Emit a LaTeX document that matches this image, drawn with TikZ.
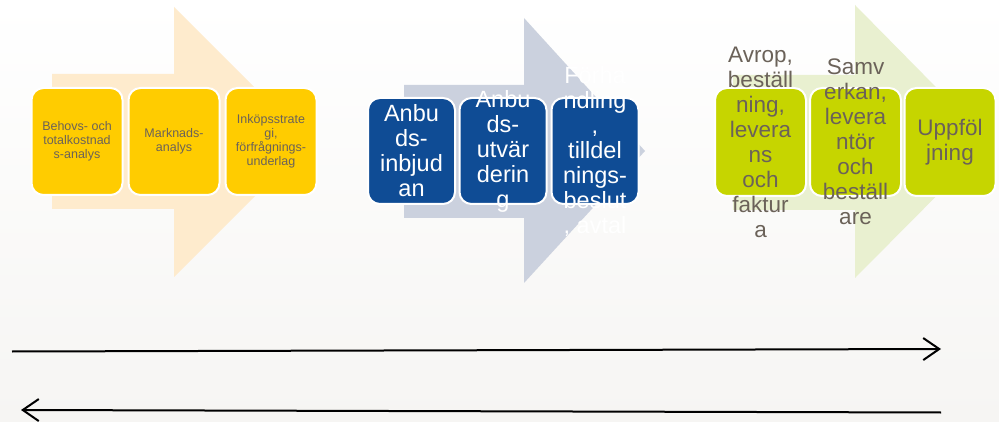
\documentclass[tikz,border=0pt]{standalone}
\usepackage{fontspec}
\setmainfont{Liberation Sans}
\usepackage{tikz}
\usetikzlibrary{arrows.meta,positioning}
\definecolor{bgtop}{HTML}{FFFFFF}
\definecolor{bgbottom}{HTML}{F6F5F3}
\definecolor{yellowstep}{HTML}{FFCC00}
\definecolor{yellowback}{HTML}{FEEBCD}
\definecolor{bluestep}{HTML}{0F4C95}
\definecolor{blueback}{HTML}{CBD1DE}
\definecolor{greenstep}{HTML}{C6D500}
\definecolor{greenback}{HTML}{E9F0D0}
\definecolor{steptext}{HTML}{6B6259}
\tikzset{
    x=1pt,y=-1pt,
    stepbox/.style ={rectangle, rounded corners=12pt, draw=white, line width=2pt,
                     inner sep=0pt, minimum height = 107pt},
    yellowbox/.style={stepbox, fill=yellowstep, minimum width = 91pt},
    bluebox/.style ={stepbox, fill=bluestep, minimum width = 87pt, minimum height = 106pt},
    greenbox/.style={stepbox, fill=greenstep, minimum width = 91pt, minimum height = 108pt},
    yellowtxt/.style={align=center, text=steptext, inner sep=0pt,
                      font=\fontsize{12.5}{14}\selectfont},
    bluetxt/.style ={align=center, text=white, inner sep=0pt,
                      font=\fontsize{23.5}{25}\selectfont},
    greentxt/.style={align=center, text=steptext, inner sep=0pt,
                      font=\fontsize{22.5}{25}\selectfont},
    timeline/.style={line width=2pt, -{Straight Barb[length=16pt,width=22pt,line width=2pt]}}
}
\begin{document}
\begin{tikzpicture}
 \useasboundingbox (0,0) rectangle (999,422);
 \shade[top color=bgtop, bottom color=bgbottom] (0,0) rectangle (999,422);

    % big background arrows
    \fill[yellowback] (52,74) -- (174,74) -- (174,7) -- (309,142) -- (174,277) -- (174,209) -- (52,209) -- cycle;
    \fill[blueback] (404,85) -- (524,85) -- (524,18) -- (645,151) -- (524,283) -- (524,218) -- (404,218) -- cycle;
    \fill[greenback] (733,75) -- (855,75) -- (855,5) -- (990,142) -- (855,278) -- (855,210) -- (733,210) -- cycle;

    % yellow steps
    \node[yellowbox] (y1) at (77,141.5) {};
    \node[yellowbox] (y2) at (174,141.5) {};
    \node[yellowbox] (y3) at (271,141.5) {};
    \node[yellowtxt] (y1t) at (y1) {Behovs- och\\totalkostnad\\s-analys};
    \node[yellowtxt] (y2t) at (y2) {Marknads-\\analys};
    \node[yellowtxt] (y3t) at (y3) {Inköpsstrate\\gi,\\förfrågnings-\\underlag};

    % blue steps
    \node[bluebox] (b1) at (411.5,151) {};
    \node[bluebox] (b2) at (503,151) {};
    \node[bluebox] (b3) at (595,151) {};
    \node[bluetxt] (b1t) at (b1) {Anbu\\ds-\\inbjud\\an};
    \node[bluetxt] (b2t) at (b2) {Anbu\\ds-\\utvär\\derin\\g};
    \node[bluetxt] (b3t) at (b3) {Förha\\ndling\\,\\tilldel\\nings-\\beslut\\, avtal};

    % green steps
    \node[greenbox] (g1) at (760.5,142) {};
    \node[greenbox] (g2) at (855.5,142) {};
    \node[greenbox] (g3) at (950,142) {};
    \node[greentxt] (g1t) at (g1) {Avrop,\\beställ\\ning,\\levera\\ns\\och\\faktur\\a};
    \node[greentxt] (g2t) at (g2) {Samv\\erkan,\\levera\\ntör\\och\\beställ\\are};
    \node[greentxt] (g3t) at (g3) {Uppföl\\jning};

    % time lines
    \coordinate (fwdstart) at (12,351.5);
    \coordinate (fwdend) at (941,349);
    \coordinate (backstart) at (941,412.5);
    \coordinate (backend) at (21,410);
    \draw[timeline] (fwdstart) -- (fwdend);
    \draw[timeline] (backstart) -- (backend);
\end{tikzpicture}
\end{document}
